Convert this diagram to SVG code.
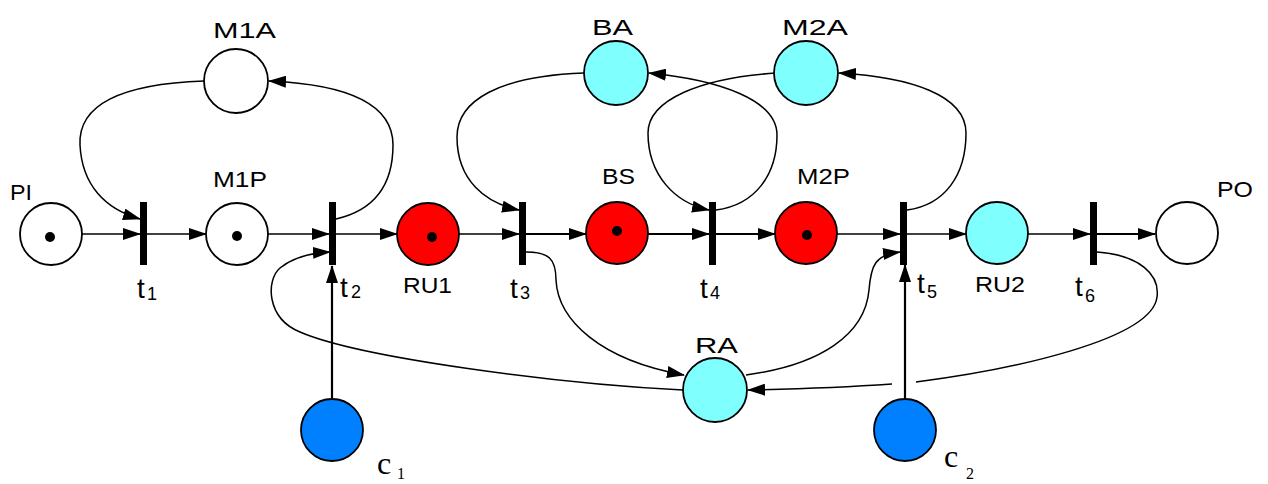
<svg xmlns="http://www.w3.org/2000/svg" width="1268" height="484" viewBox="0 0 1268 484">
<defs>
<marker id="ah" markerUnits="userSpaceOnUse" markerWidth="18" markerHeight="12" refX="17" refY="6" orient="auto">
<path d="M0,0 L18,6 L0,12 z" fill="#000"/>
</marker>
<style>
.pl{stroke:#000;stroke-width:1.8}
.w{fill:#fff}.r{fill:#ff0000}.c{fill:#80ffff}.b{fill:#0080ff}
.tr{fill:#000}
.tok{fill:#000}
.e{fill:none;stroke:#000;stroke-width:1.5;marker-end:url(#ah)}
.e2{fill:none;stroke:#000;stroke-width:2.2;marker-end:url(#ah)}
.n{fill:none;stroke:#000;stroke-width:1.5}
</style>
</defs>
<rect width="1268" height="484" fill="#fff"/>
<g id="connectors">
<path class="e" d="M82,234 L140,234"/>
<path class="e" d="M147,234 L206,234"/>
<path class="e" d="M268,234 L329,234"/>
<path class="e" d="M336,234 L397,234"/>
<path class="e" d="M459,234 L519,234"/>
<path class="e2" d="M526,234 L586,234"/>
<path class="e2" d="M648,234 L709,234"/>
<path class="e2" d="M716,234 L775,234"/>
<path class="e" d="M837,234 L900,234"/>
<path class="e" d="M907,234 L966,234"/>
<path class="e" d="M1028,234 L1090,234"/>
<path class="e2" d="M1097,234 L1155,234"/>
<path class="e2" d="M332,398 L332,266"/>
<path class="e2" d="M905,398 L905,265"/>
<path class="e" d="M204,81 C120,84 78,105 80,145 C82,185 105,209 140,219"/>
<path class="e" d="M336,219 C375,210 393,185 393,145 C393,100 340,84 269,81"/>
<path class="e" d="M584,73 C500,76 457,100 457,137 C457,180 485,203 519,210"/>
<path class="e" d="M716,210 C755,205 777,175 777,135 C777,100 720,80 649,73"/>
<path class="e" d="M776,73 C700,78 648,100 648,133 C648,175 675,203 709,210"/>
<path class="e" d="M907,210 C945,205 966,175 966,133 C966,95 910,77 839,73"/>
<path class="e" d="M683,390 C560,384 360,358 300,332 C266,318 266,280 280,268 C292,258 310,253 330,252"/>
<path class="e" d="M526,252 C548,252 556,258 556,280 C558,320 600,360 684,375"/>
<path class="e" d="M746,375 C820,365 865,335 869,290 C871,265 875,255 900,252"/>
<path class="n" d="M1097,252 C1140,255 1160,275 1157,297 C1152,340 1010,370 916,382"/>
<path class="e" d="M892,384 C850,387 800,389 748,390"/>
</g>
<g font-family="'Liberation Sans', Arial, sans-serif" font-size="22" fill="#000">
<g id="PI"><circle class="pl w" cx="51" cy="234" r="31"/><circle class="tok" cx="50" cy="237" r="5"/><text x="10" y="200" textLength="22" lengthAdjust="spacingAndGlyphs">PI</text></g>
<g id="M1A"><circle class="pl w" cx="236" cy="81" r="32"/><text x="213" y="38" textLength="63" lengthAdjust="spacingAndGlyphs">M1A</text></g>
<g id="M1P"><circle class="pl w" cx="237" cy="234" r="31"/><circle class="tok" cx="237" cy="236" r="5"/><text x="213" y="187" textLength="54" lengthAdjust="spacingAndGlyphs">M1P</text></g>
<g id="RU1"><circle class="pl r" cx="428" cy="234" r="31"/><circle class="tok" cx="432" cy="237" r="5"/><text x="403" y="293" textLength="49" lengthAdjust="spacingAndGlyphs">RU1</text></g>
<g id="BA"><circle class="pl c" cx="616" cy="73" r="32"/><text x="592" y="35" textLength="41" lengthAdjust="spacingAndGlyphs">BA</text></g>
<g id="BS"><circle class="pl r" cx="617" cy="233" r="31"/><circle class="tok" cx="617" cy="231" r="5"/><text x="602" y="184" textLength="33" lengthAdjust="spacingAndGlyphs">BS</text></g>
<g id="M2A"><circle class="pl c" cx="806" cy="73" r="32"/><text x="782" y="35" textLength="66" lengthAdjust="spacingAndGlyphs">M2A</text></g>
<g id="M2P"><circle class="pl r" cx="806" cy="233" r="31"/><circle class="tok" cx="807" cy="235" r="5"/><text x="797" y="184" textLength="53" lengthAdjust="spacingAndGlyphs">M2P</text></g>
<g id="RU2"><circle class="pl c" cx="997" cy="233" r="31"/><text x="975" y="292" textLength="50" lengthAdjust="spacingAndGlyphs">RU2</text></g>
<g id="PO"><circle class="pl w" cx="1187" cy="233" r="31"/><text x="1217" y="197" textLength="36" lengthAdjust="spacingAndGlyphs">PO</text></g>
<g id="RA"><circle class="pl c" cx="715" cy="390" r="32"/><text x="695" y="353" textLength="43" lengthAdjust="spacingAndGlyphs">RA</text></g>
<g id="c1"><circle class="pl b" cx="332" cy="430" r="31"/><text font-family="'Liberation Serif', 'Times New Roman', serif" font-size="32" x="377" y="474">c</text><text font-family="'Liberation Serif', 'Times New Roman', serif" font-size="16" x="397" y="479">1</text></g>
<g id="c2"><circle class="pl b" cx="905" cy="430" r="31"/><text font-family="'Liberation Serif', 'Times New Roman', serif" font-size="32" x="944" y="467">c</text><text font-family="'Liberation Serif', 'Times New Roman', serif" font-size="16" x="966" y="479">2</text></g>
<g id="t1"><rect class="tr" x="140" y="202" width="7" height="63"/><text font-size="28" x="137" y="298">t</text><text font-size="18" x="147" y="300">1</text></g>
<g id="t2"><rect class="tr" x="329" y="202" width="7" height="63"/><text font-size="28" x="340" y="297">t</text><text font-size="18" x="351" y="298">2</text></g>
<g id="t3"><rect class="tr" x="519" y="202" width="7" height="63"/><text font-size="28" x="510" y="298">t</text><text font-size="18" x="520" y="299">3</text></g>
<g id="t4"><rect class="tr" x="709" y="202" width="7" height="63"/><text font-size="28" x="700" y="298">t</text><text font-size="18" x="710" y="299">4</text></g>
<g id="t5"><rect class="tr" x="900" y="202" width="7" height="63"/><text font-size="28" x="917" y="293">t</text><text font-size="18" x="927" y="298">5</text></g>
<g id="t6"><rect class="tr" x="1090" y="202" width="7" height="63"/><text font-size="28" x="1075" y="296">t</text><text font-size="18" x="1085" y="302">6</text></g>
</g>
</svg>
